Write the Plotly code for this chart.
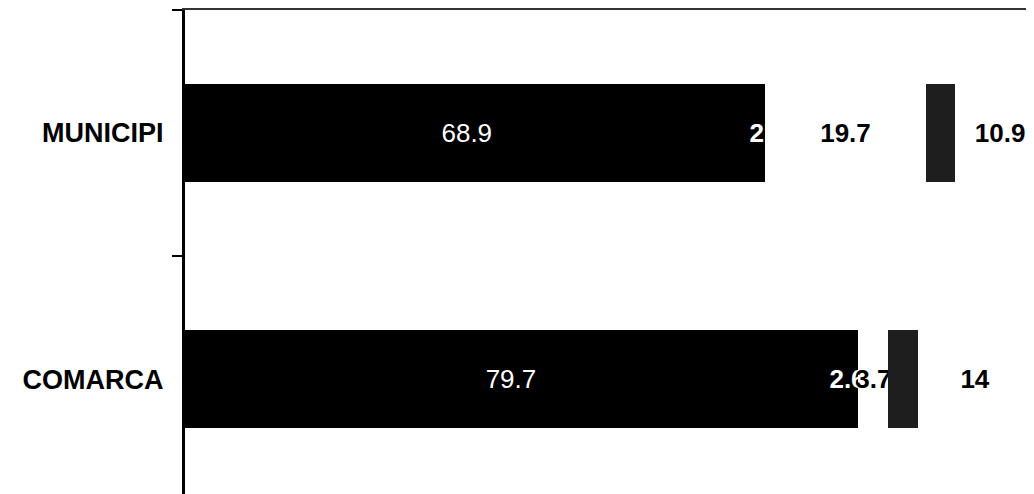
import plotly.graph_objects as go

categories = ["MUNICIPI", "COMARCA"]
serie1 = [68.9, 79.7]
serie2 = [2, 2.6]
serie3 = [19.7, 3.7]
serie4 = [3.6, 3.6]
serie5 = [10.9, 14]

FONT = "Liberation Sans, Arial, sans-serif"

series = [
    dict(vals=serie1, color="#000000", text_color="#ffffff", weight="normal", show=True),
    dict(vals=serie2, color="#000000", text_color="#ffffff", weight="bold", show=True),
    dict(vals=serie3, color="#ffffff", text_color="#000000", weight="bold", show=True),
    dict(vals=serie4, color="#1e1e1e", text_color="#1e1e1e", weight="bold", show=False),
    dict(vals=serie5, color="#ffffff", text_color="#000000", weight="bold", show=True),
]

fig = go.Figure()
for s in series:
    fig.add_trace(go.Bar(
        y=categories, x=s["vals"], orientation="h",
        marker=dict(color=s["color"], line=dict(width=0)),
        texttemplate="%{x}" if s["show"] else None,
        textposition="inside" if s["show"] else "none",
        insidetextanchor="middle",
        constraintext="none",
        textangle=0,
        textfont=dict(family=FONT, size=26, color=s["text_color"], weight=s["weight"]),
        hoverinfo="skip",
        showlegend=False,
    ))

# the page body adds an 8px offset, so the figure is sized to fill the window exactly
fig.update_layout(
    barmode="stack",
    bargap=0.6,
    width=1026, height=486,
    margin=dict(l=177, r=0, t=2, b=0, autoexpand=False),
    paper_bgcolor="white", plot_bgcolor="white",
    showlegend=False,
)
fig.update_xaxes(
    range=[0, 103.8], side="top", showline=True, linecolor="#333333", linewidth=1.5,
    showticklabels=False, ticks="", showgrid=False, zeroline=False, fixedrange=True,
    automargin=False,
)
fig.update_yaxes(
    type="category", categoryorder="array", categoryarray=categories,
    range=[1.467, -0.5], autorange=False,
    showline=True, linecolor="black", linewidth=3,
    ticks="outside", ticklen=10, tickwidth=2, tickcolor="black", tickson="boundaries",
    ticklabelstandoff=13, automargin=False,
    tickfont=dict(family=FONT, size=27, color="black", weight="bold"),
    showgrid=False, zeroline=False, fixedrange=True,
)

fig.write_html("out.html")
